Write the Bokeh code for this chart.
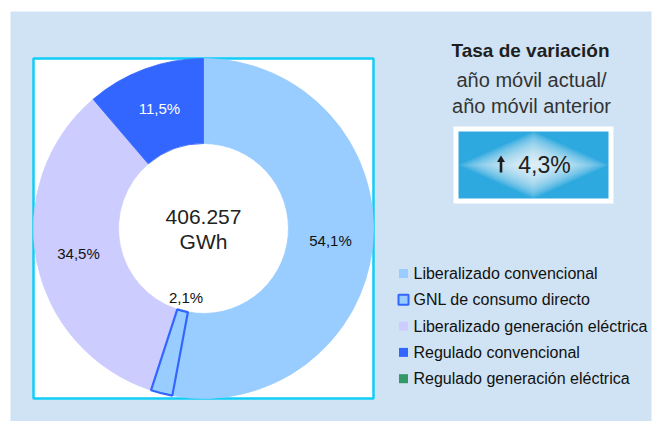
import numpy as np
from bokeh.plotting import figure
from bokeh.models import Range1d
from bokeh.embed import file_html
from bokeh.resources import INLINE
from bokeh.core.properties import value

# ---------------- data ----------------
categories = [
    "Liberalizado convencional",
    "GNL de consumo directo",
    "Liberalizado generación eléctrica",
    "Regulado convencional",
    "Regulado generación eléctrica",
]
shares = [54.1, 2.1, 34.5, 11.5, 0.0]
share_labels = ["54,1%", "2,1%", "34,5%", "11,5%", "0,0%"]
colors = ["#99ccff", "#99ccff", "#ccccff", "#3366ff", "#339966"]
total_lines = ["406.257", "GWh"]
title_lines = ["Tasa de variación", "año móvil actual/", "año móvil anterior"]
variation_label = "4,3%"

# ---------------- layout helpers ----------------
W, H = 660, 421
FONT = value("Liberation Sans")


def X(sx):
    return sx


def Y(sy):
    return H - sy


p = figure(width=W, height=H, x_range=Range1d(0, W), y_range=Range1d(0, H),
           output_backend="svg", toolbar_location=None, min_border=0,
           x_axis_type=None, y_axis_type=None)
p.grid.visible = False
p.outline_line_color = None
p.background_fill_color = "white"
p.border_fill_color = "white"

# panel background
p.quad(left=X(10), right=X(651), top=Y(11), bottom=Y(430),
       fill_color="#cfe3f4", line_color=None)
# white box with cyan frame
p.quad(left=X(33), right=X(373), top=Y(58), bottom=Y(398),
       fill_color="white", line_color="#12cdf7", line_width=2.5)

# ---------------- donut ----------------
cx, cy = X(203), Y(228)
r_in, r_out = 85, 170
vals = np.array(shares, dtype=float)
frac = vals / vals.sum()
cum = np.concatenate([[0.0], np.cumsum(frac)])
start = np.pi / 2 - 2 * np.pi * cum[:-1]
end = np.pi / 2 - 2 * np.pi * cum[1:]
mid = np.pi / 2 - 2 * np.pi * (cum[:-1] + frac / 2)

idx = [i for i in range(len(vals)) if vals[i] > 0 and i != 1]
p.annular_wedge(x=cx, y=cy, inner_radius=r_in, outer_radius=r_out,
                start_angle=[start[i] for i in idx], end_angle=[end[i] for i in idx],
                direction="clock", fill_color=[colors[i] for i in idx],
                line_color=[colors[i] for i in idx], line_width=0.8)
# GNL slice with outline
p.annular_wedge(x=cx, y=cy, inner_radius=r_in, outer_radius=r_out,
                start_angle=[start[1]], end_angle=[end[1]], direction="clock",
                fill_color=colors[1], line_color="#3366ff", line_width=2.2)

lab_r = [127.5, 71, 127.5, 127.5]
lab_col = ["#111111", "#111111", "#111111", "white"]
for i in range(4):
    p.text(x=[cx + lab_r[i] * np.cos(mid[i])], y=[cy + lab_r[i] * np.sin(mid[i])],
           text=[share_labels[i]], text_align="center", text_baseline="middle",
           text_font=FONT, text_font_size="15px", text_color=lab_col[i])

p.text(x=[cx, cx], y=[Y(216), Y(241)], text=total_lines, text_align="center",
       text_baseline="middle", text_font=FONT, text_font_size="21px",
       text_color="#222222")

# ---------------- right panel ----------------
p.text(x=[X(530)], y=[Y(50)], text=[title_lines[0]], text_align="center",
       text_baseline="middle", text_font=FONT, text_font_size="19px",
       text_font_style="bold", text_color="#1e1e1e")
p.text(x=[X(531), X(531)], y=[Y(79.5), Y(105)], text=title_lines[1:],
       text_align="center", text_baseline="middle", text_font=FONT,
       text_font_size="20px", text_color="#333333")

# variation box
p.quad(left=X(453), right=X(613), top=Y(126), bottom=Y(203),
       fill_color="white", line_color=None)
bl, br, bt, bb = X(458), X(608), Y(131), Y(198)
p.quad(left=bl, right=br, top=bt, bottom=bb, fill_color="#2ea9df", line_color=None)
bx, by = (bl + br) / 2, (bt + bb) / 2
hw, hh = (br - bl) / 2, (bt - bb) / 2
xs, ys = [], []
N = 22
for k in range(N):
    s = 1 - k / N
    xs.append([bx - s * hw, bx, bx + s * hw, bx])
    ys.append([by, by + s * hh, by, by - s * hh])
p.patches(xs=xs, ys=ys, fill_color="white", fill_alpha=0.085, line_color=None)

# arrow
ax, at, ab = 500.5, 155, 172
arrow_x = [ax, ax + 4, ax + 1.3, ax + 1.3, ax - 1.3, ax - 1.3, ax - 4]
arrow_y = [at, at + 6.5, at + 6.5, ab, ab, at + 6.5, at + 6.5]
p.patch(x=[X(v) for v in arrow_x], y=[Y(v) for v in arrow_y],
        fill_color="#1e1e1e", line_color=None)
p.text(x=[X(544)], y=[Y(164)], text=[variation_label], text_align="center",
       text_baseline="middle", text_font=FONT, text_font_size="23px",
       text_color="#222222")

# ---------------- legend ----------------
row_y = [Y(273 + i * 26.3) for i in range(len(categories))]
others = [i for i in range(len(categories)) if i != 1]
p.rect(x=X(403), y=[row_y[i] for i in others], width=9, height=9,
       fill_color=[colors[i] for i in others], line_color=None)
p.rect(x=X(403), y=[row_y[1]], width=10, height=10, fill_color=colors[1],
       line_color="#3366ff", line_width=2)
p.text(x=X(413), y=row_y, text=categories, text_align="left",
       text_baseline="middle", text_font=FONT, text_font_size="16px",
       text_color="#111111")

open("out.html", "w").write(file_html(p, INLINE))
